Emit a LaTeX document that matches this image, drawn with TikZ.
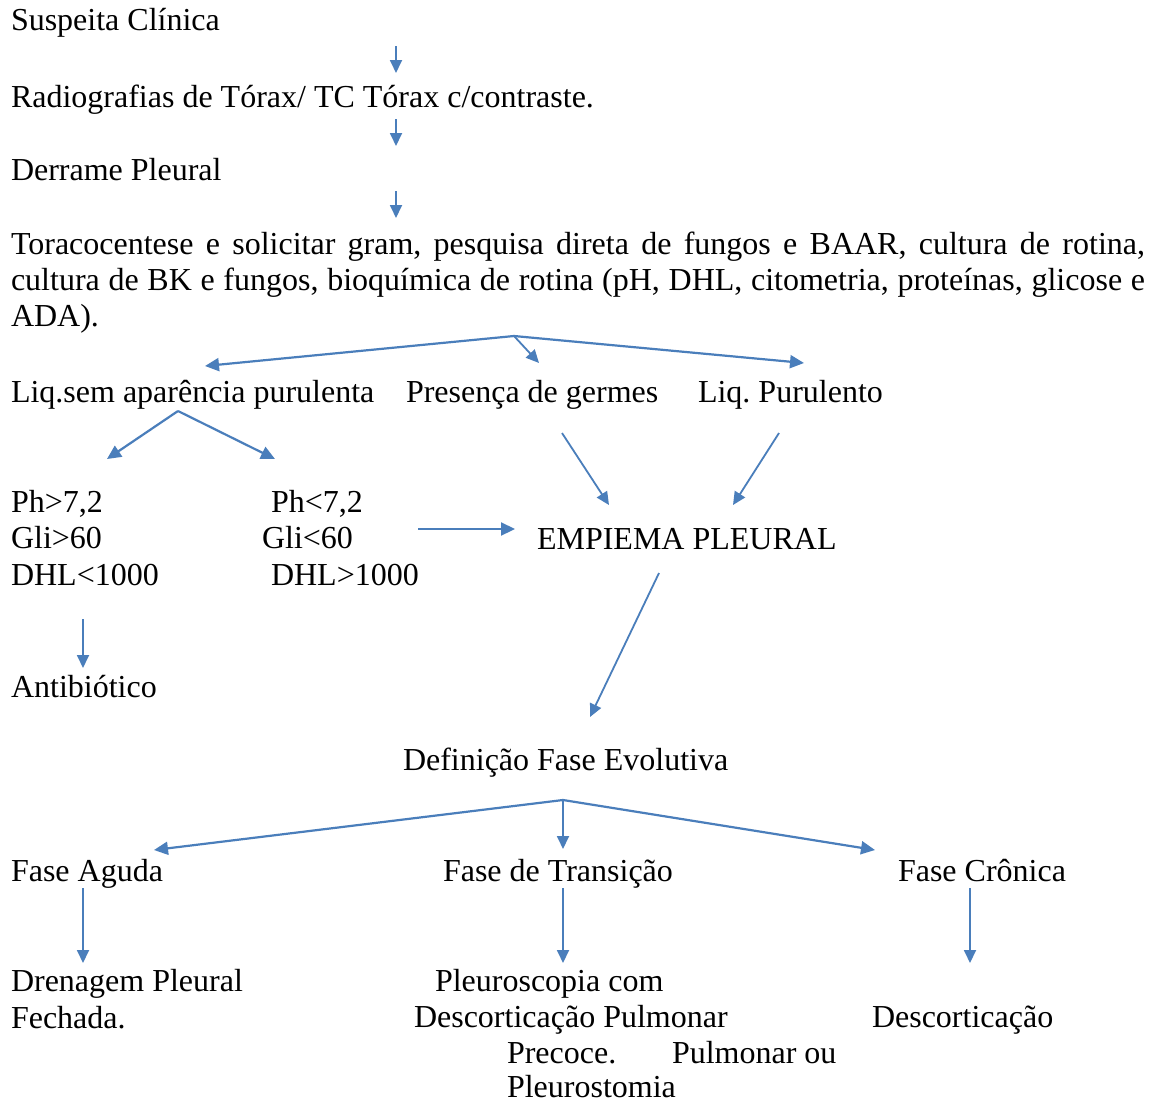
\documentclass[tikz,border=0pt]{standalone}
\usepackage{fontspec}
\setmainfont{Liberation Serif}
\usetikzlibrary{arrows.meta}
\definecolor{arrc}{RGB}{74,126,187}
\frenchspacing
\begin{document}
\begin{tikzpicture}[x=1pt,y=-1pt,
  txt/.style={inner sep=0pt,outer sep=0pt,anchor=base west,font=\fontsize{32}{36.8}\selectfont},
  arr/.style={draw=arrc,line width=2.2pt,-{Triangle[length=14pt,width=13pt]}},
  sarr/.style={draw=arrc,line width=1.8pt,-{Triangle[length=13pt,width=12pt]}}]
\useasboundingbox[fill=white] (0,0) rectangle (1153,1103);
% texts
\node[txt] (susp) at (11,30) {Suspeita Clínica};
\node[txt] (radio) at (11,107) {Radiografias de Tórax/ TC Tórax c/contraste.};
\node[txt] (derr) at (11,180) {Derrame Pleural};
\node[txt] (tor1) at (11,254) {\makebox[1134pt][s]{Toracocentese e solicitar gram, pesquisa direta de fungos e BAAR, cultura de rotina,}};
\node[txt] (tor2) at (11,290) {\makebox[1134pt][s]{cultura de BK e fungos, bioquímica de rotina (pH, DHL, citometria, proteínas, glicose e}};
\node[txt] (tor3) at (11,326) {ADA).};
\node[txt] (liqsem) at (11,402) {Liq.sem aparência purulenta};
\node[txt] (germ) at (406,402) {Presença de germes};
\node[txt] (liqp) at (698,402) {Liq. Purulento};
\node[txt] (ph1) at (11,512) {Ph>7,2};
\node[txt] (gli1) at (11,548) {Gli>60};
\node[txt] (dhl1) at (11,585) {DHL<1000};
\node[txt] (ph2) at (271,512) {Ph<7,2};
\node[txt] (gli2) at (262,548) {Gli<60};
\node[txt] (dhl2) at (271,585) {DHL>1000};
\node[txt] (emp) at (537,549) {EMPIEMA PLEURAL};
\node[txt] (anti) at (11,697) {Antibiótico};
\node[txt] (def) at (403,770) {Definição Fase Evolutiva};
\node[txt] (fag) at (11,881) {Fase Aguda};
\node[txt] (ftr) at (443,881) {Fase de Transição};
\node[txt] (fcr) at (898,881) {Fase Crônica};
\node[txt] (dren1) at (11,991) {Drenagem Pleural};
\node[txt] (dren2) at (11,1028) {Fechada.};
\node[txt] (pl1) at (435,991) {Pleuroscopia com};
\node[txt] (pl2) at (414,1027) {Descorticação Pulmonar};
\node[txt] (pl3) at (507,1063) {Precoce.};
\node[txt] (pl4) at (672,1063) {Pulmonar ou};
\node[txt] (pl5) at (507,1097) {Pleurostomia};
\node[txt] (desc) at (872,1027) {Descorticação};
% coordinates
\coordinate (a1s) at (396,46); \coordinate (a1e) at (396,73);
\coordinate (a2s) at (396,119); \coordinate (a2e) at (396,146);
\coordinate (a3s) at (396,191); \coordinate (a3e) at (396,218);
\coordinate (b0) at (514,336);
\coordinate (bL) at (205,366); \coordinate (bM) at (539,363); \coordinate (bR) at (804,363);
\coordinate (c0) at (178,411);
\coordinate (cL) at (107,459); \coordinate (cR) at (275,459);
\coordinate (hs) at (418,529); \coordinate (he) at (515,529);
\coordinate (gs) at (562,433); \coordinate (ge) at (609,505);
\coordinate (ps) at (779,433); \coordinate (pe) at (733,505);
\coordinate (es) at (659,573); \coordinate (ee) at (590,717);
\coordinate (as) at (83,619); \coordinate (ae) at (83,668);
\coordinate (d0) at (563,800);
\coordinate (dL) at (154,850); \coordinate (dM) at (563,849); \coordinate (dR) at (875,850);
\coordinate (f1s) at (83,888); \coordinate (f1e) at (83,963);
\coordinate (f2s) at (563,888); \coordinate (f2e) at (563,963);
\coordinate (f3s) at (970,888); \coordinate (f3e) at (970,963);
% arrows
\draw[sarr] (a1s) -- (a1e);
\draw[sarr] (a2s) -- (a2e);
\draw[sarr] (a3s) -- (a3e);
\draw[arr] (b0) -- (bL);
\draw[sarr] (b0) -- (bM);
\draw[arr] (b0) -- (bR);
\draw[arr] (c0) -- (cL);
\draw[arr] (c0) -- (cR);
\draw[arr] (hs) -- (he);
\draw[sarr] (gs) -- (ge);
\draw[sarr] (ps) -- (pe);
\draw[sarr] (es) -- (ee);
\draw[sarr] (as) -- (ae);
\draw[arr] (d0) -- (dL);
\draw[sarr] (d0) -- (dM);
\draw[arr] (d0) -- (dR);
\draw[sarr] (f1s) -- (f1e);
\draw[sarr] (f2s) -- (f2e);
\draw[sarr] (f3s) -- (f3e);
\end{tikzpicture}
\end{document}
